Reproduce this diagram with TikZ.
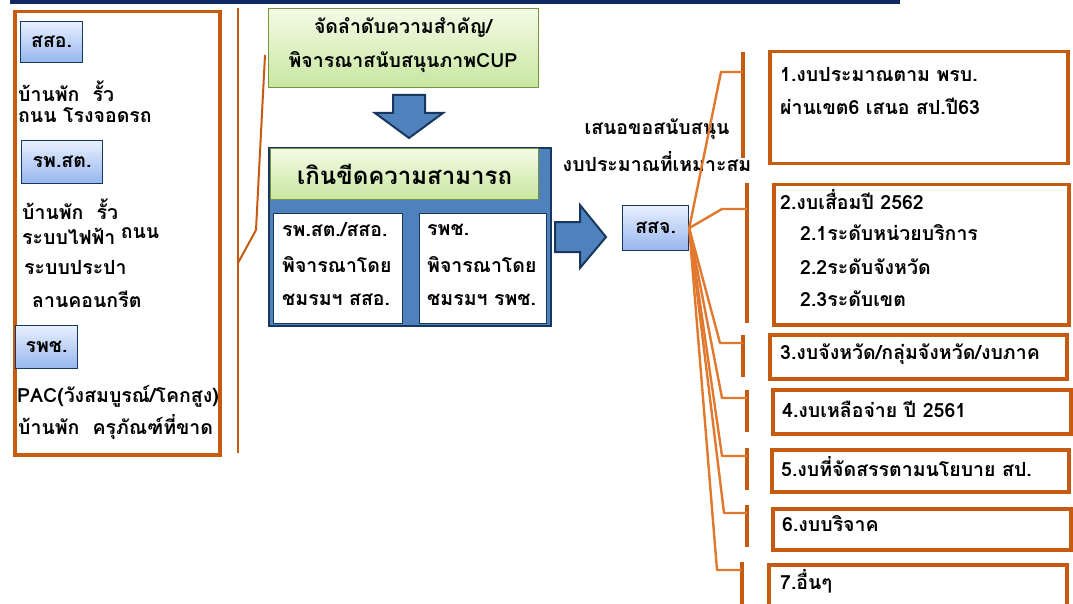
\documentclass[tikz,border=0pt]{standalone}
\usepackage{fontspec}
\setmainfont{Loma}[Script=Thai]
\usetikzlibrary{positioning}
\definecolor{borange}{RGB}{197,90,17}
\definecolor{lorange}{RGB}{226,120,45}
\definecolor{navy}{RGB}{23,55,94}
\definecolor{topbar}{RGB}{16,40,100}
\definecolor{steel}{RGB}{79,129,189}
\definecolor{tabtop}{RGB}{232,240,254}
\definecolor{tabbot}{RGB}{150,182,238}
\definecolor{gtop}{RGB}{244,251,230}
\definecolor{gbot}{RGB}{200,230,160}
\definecolor{gline}{RGB}{119,147,60}

\begin{document}
\begin{tikzpicture}[x=1pt,y=-1pt,
	  every node/.style={inner sep=0pt,font=\fontsize{19.5}{22}\selectfont\bfseries},
	  obox/.style={draw=borange,line width=3.5pt,fill=white,anchor=north west},
	  tab/.style={draw=navy,line width=1.2pt,top color=tabtop,bottom color=tabbot,anchor=north west},
	  gbox/.style={draw=gline,line width=1.2pt,top color=gtop,bottom color=gbot,anchor=north west},
	  wbox/.style={draw=navy,line width=1pt,fill=white,anchor=north west},
	  txt/.style={anchor=west},
	  arm/.style={draw=borange,line width=2pt},
	  fan/.style={draw=lorange,line width=2.4pt,line join=round},
	  bar/.style={draw=borange,line width=4pt},
	  block/.style={fill=steel,draw=navy,line width=2pt,line join=miter}]
	  \useasboundingbox (0,0) rectangle (1073,604);
	  \draw[topbar,line width=4pt] (10,2) -- (900,2);
	  % left column
	  \node (lbox) [obox,minimum width=205pt,minimum height=443pt] at (13,10) {};
	  \node (ssa) [tab,minimum width=62pt,minimum height=41pt] at (20,21) {};
	  \node at (ssa.center) {สสอ.};
	  \node (l1) [txt] at (18,91) {บ้านพัก\ \ รั้ว};
	  \node (l2) [txt] at (18,115) {ถนน โรงจอดรถ};
	  \node (rpst) [tab,minimum width=81pt,minimum height=43pt] at (21,140) {};
	  \node at (rpst.center) {รพ.สต.};
	  \node (l3) [txt] at (22,209) {บ้านพัก\ \ รั้ว};
	  \node (l4) [txt] at (22,236) {ระบบไฟฟ้า};
	  \node (l5) [right=5pt of l4,yshift=3pt] {ถนน};
	  \node (l6) [txt] at (24,268) {ระบบประปา};
	  \node (l7) [txt] at (32,299) {ลานคอนกรีต};
	  \node (rpc) [tab,minimum width=62pt,minimum height=43pt] at (15,325) {};
	  \node at (rpc.center) {รพช.};
	  \node (l8) [txt] at (17,396) {PAC(วังสมบูรณ์/โคกสูง)};
	  \node (l9) [txt] at (18,427) {บ้านพัก\ \ ครุภัณฑ์ที่ขาด};
	  \draw[bar,line width=2.5pt] (238,8) -- (238,453);
	  \draw[arm] (238,263) -- (256,230) -- (265,55);
	  % middle
	  \node (cup) [gbox,minimum width=270pt,minimum height=79pt] at (268,8) {};
	  \node (cup1) at (403,28) {จัดลำดับความสำคัญ/};
	  \node (cup2) at (403,62) {พิจารณาสนับสนุนภาพCUP};
	  \fill[block] (393,95) -- (425,95) -- (425,113) -- (443,113) -- (409,138) -- (375,113) -- (393,113) -- cycle;
	  \node (cap) [block,anchor=north west,minimum width=282pt,minimum height=178pt] at (268,147) {};
	  \node (over) [gbox,minimum width=268pt,minimum height=51pt] at (270,148) {};
	  \node at (over.center) {\fontsize{24}{26}\selectfont เกินขีดความสามารถ};
	  \node (sub1) [wbox,minimum width=129pt,minimum height=110pt] at (273,213) {};
	  \node (sub2) [wbox,minimum width=127pt,minimum height=110pt] at (419,213) {};
	  \node (s1a) [txt] at (282,230) {รพ.สต./สสอ.};
	  \node (s1b) [txt] at (282,265) {พิจารณาโดย};
	  \node (s1c) [txt] at (282,300) {ชมรมฯ สสอ.};
	  \node (s2a) [txt] at (427,230) {รพช.};
	  \node (s2b) [txt] at (427,265) {พิจารณาโดย};
	  \node (s2c) [txt] at (427,300) {ชมรมฯ รพช.};
	  \fill[block] (555,222) -- (580,222) -- (580,205) -- (606,237) -- (580,268) -- (580,252) -- (555,252) -- cycle;
	  \node (ask1) at (657,129) {เสนอขอสนับสนุน};
	  \node (ask2) at (657,162) {งบประมาณที่เหมาะสม};
	  \node (ssj) [tab,minimum width=66pt,minimum height=45pt] at (622,205) {};
	  \node at (ssj.center) {สสจ.};
	  % right column
	  \foreach \i/\xv/\yt/\yb/\yh/\xh in {1/743/52/158/72/721,2/747/183/323/209/722,3/743/335/377/343/720,
	      4/747/390/432/398/722,5/747/448/490/456/722,6/747/505/547/513/724,7/742/562/604/570/717}{
	    \coordinate (h\i) at (\xh,\yh);
	    \draw[bar] (\xv,\yt) -- (\xv,\yb);
	    \draw[fan] (ssj.east) -- (h\i) -- (\xv,\yh);
	  }
	  \node (b1) [obox,minimum width=298pt,minimum height=112pt] at (768,50) {};
	  \node (b2) [obox,minimum width=295pt,minimum height=140pt] at (772,183) {};
	  \node (b3) [obox,minimum width=297pt,minimum height=44pt] at (768,333) {};
	  \node (b4) [obox,minimum width=298pt,minimum height=44pt] at (771,388) {};
	  \node (b5) [obox,minimum width=297pt,minimum height=42pt] at (770,448) {};
	  \node (b6) [obox,minimum width=298pt,minimum height=41pt] at (771,507) {};
	  \node (b7) [obox,minimum width=298pt,minimum height=41pt] at (767,563) {};
	  \node (r1a) [txt] at (780,75) {1.งบประมาณตาม พรบ.};
	  \node (r1b) [txt] at (780,106) {ผ่านเขต6 เสนอ สป.ปี63};
	  \node (r2a) [txt] at (780,200) {2.งบเสื่อมปี 2562};
	  \node (r2b) [txt] at (800,233) {2.1ระดับหน่วยบริการ};
	  \node (r2c) [txt] at (800,267) {2.2ระดับจังหวัด};
	  \node (r2d) [txt] at (800,299) {2.3ระดับเขต};
	  \node (r3) [txt] at (780,354) {3.งบจังหวัด/กลุ่มจังหวัด/งบภาค};
	  \node (r4) [txt] at (782,409) {4.งบเหลือจ่าย ปี 2561};
	  \node (r5) [txt] at (781,467) {5.งบที่จัดสรรตามนโยบาย สป.};
	  \node (r6) [txt] at (782,524) {6.งบบริจาค};
	  \node (r7) [txt] at (780,581) {7.อื่นๆ};
\end{tikzpicture}
\end{document}
